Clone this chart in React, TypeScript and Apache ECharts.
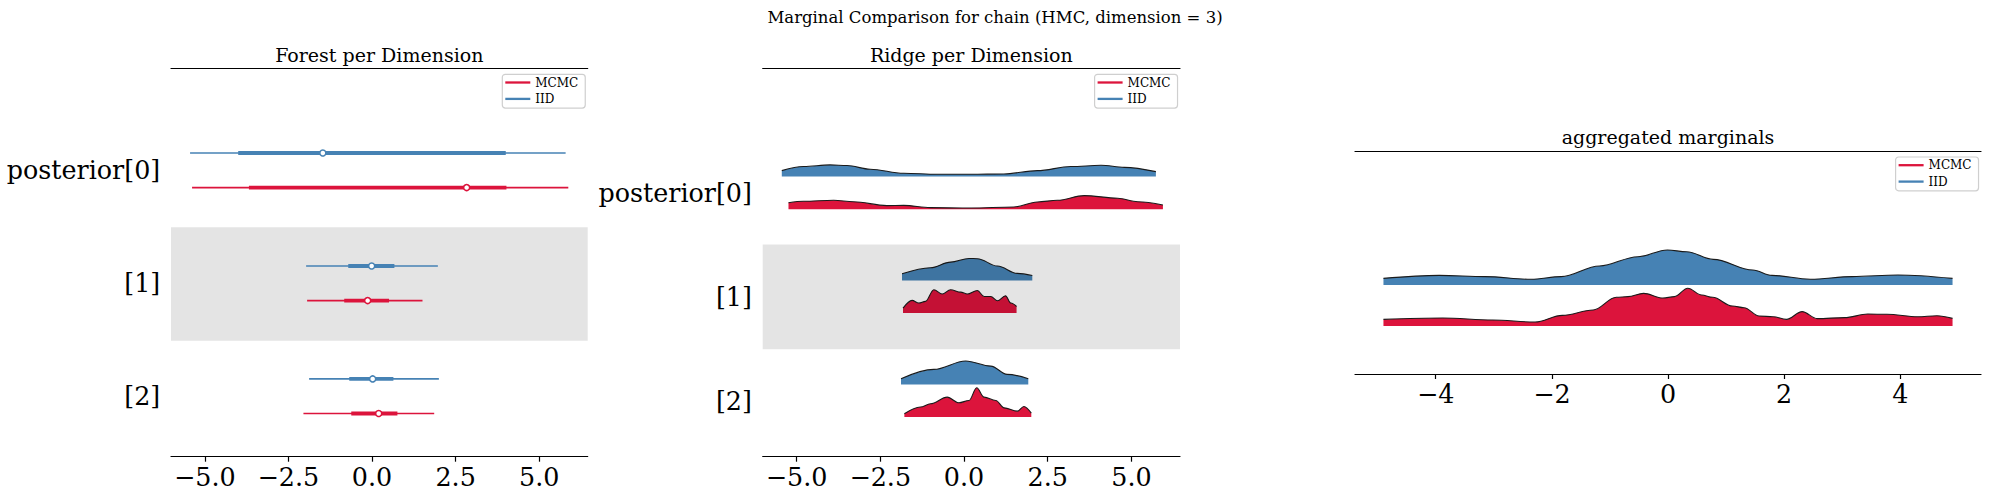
import React, { useEffect, useRef } from "react";
import * as echarts from "echarts";

const RED = "#dc143c";
const BLUE = "#4682b4";
const FONT = "DejaVu Serif";

const SUPTITLE = "Marginal Comparison for chain (HMC, dimension = 3)";
const panelTitles = ["Forest per Dimension", "Ridge per Dimension", "aggregated marginals"];
const rowLabels = ["posterior[0]", "[1]", "[2]"];
const legendNames = ["MCMC", "IID"];
const dimTicks = [-5, -2.5, 0, 2.5, 5];
const aggTicks = [-4, -2, 0, 2, 4];

// forest intervals per dimension: [thinLo, thickLo, median, thickHi, thinHi]
const forestIid = [
  [-5.44, -4.0, -1.47, 4.0, 5.79],
  [-1.97, -0.71, -0.01, 0.67, 1.97],
  [-1.88, -0.68, 0.02, 0.64, 2.0],
];
const forestMcmc = [
  [-5.38, -3.68, 2.83, 4.02, 5.87],
  [-1.94, -0.83, -0.13, 0.51, 1.51],
  [-2.05, -0.62, 0.2, 0.76, 1.86],
];

// ridge densities [x, height]
const ridgeIid0 = [
  [-5.44, 4.7], [-4.79, 7.9], [-4.0, 9.2], [-3.49, 8.7], [-2.8, 5.8], [-1.8, 2.6],
  [-0.8, 1.8], [0.2, 1.8], [1.19, 2.1], [2.19, 4.7], [3.19, 7.9], [4.09, 8.9],
  [4.79, 7.3], [5.73, 3.9],
];
const ridgeMcmc0 = [
  [-5.24, 5.2], [-4.79, 6.3], [-3.89, 7.1], [-3.3, 6.0], [-2.3, 2.9], [-1.8, 3.1],
  [-1.0, 1.3], [0.2, 1.0], [1.49, 1.8], [2.19, 5.8], [2.79, 7.1], [3.59, 10.8],
  [4.59, 8.7], [5.19, 6.0], [5.94, 3.4],
];
const ridgeIid1 = [
  [-1.85, 5.2], [-1.0, 10.0], [-0.4, 14.4], [0.15, 17.3], [0.4, 17.1], [1.0, 11.3],
  [1.59, 5.5], [2.04, 3.9],
];
const ridgeMcmc1 = [
  [-1.82, 3.9], [-1.55, 10.0], [-1.35, 7.9], [-1.15, 9.2], [-0.9, 18.4], [-0.65, 15.0],
  [-0.4, 18.4], [-0.1, 16.5], [0.1, 15.0], [0.4, 17.8], [0.6, 13.1], [0.8, 13.1],
  [1.0, 9.7], [1.24, 13.6], [1.4, 7.9], [1.57, 5.2],
];
const ridgeIid2 = [
  [-1.88, 4.5], [-0.9, 11.8], [0.05, 18.4], [0.8, 14.4], [1.29, 7.9], [1.92, 4.5],
];
const ridgeMcmc2 = [
  [-1.78, 2.6], [-1.3, 7.9], [-1.0, 10.5], [-0.5, 15.7], [-0.15, 11.3], [0.15, 13.1],
  [0.38, 23.1], [0.6, 15.7], [0.95, 13.1], [1.2, 7.3], [1.59, 4.7], [1.79, 8.4],
  [2.01, 3.1],
];
const aggIid = [
  [-4.9, 5.2], [-3.94, 7.6], [-3.15, 6.6], [-2.36, 4.5], [-1.84, 6.6], [-1.18, 15.0],
  [-0.52, 22.3], [-0.01, 27.6], [0.32, 26.2], [0.78, 20.2], [1.46, 11.8], [1.79, 7.6],
  [2.45, 4.5], [3.17, 6.6], [3.96, 7.9], [4.9, 5.2],
];
const aggMcmc = [
  [-4.9, 5.2], [-3.88, 6.3], [-3.02, 4.7], [-2.29, 3.1], [-1.82, 8.4], [-1.29, 12.6],
  [-0.89, 22.6], [-0.69, 23.1], [-0.42, 25.7], [-0.09, 22.0], [0.11, 23.1], [0.34, 29.7],
  [0.58, 24.4], [0.77, 22.6], [1.11, 15.7], [1.31, 14.4], [1.57, 7.9], [1.81, 7.3],
  [2.04, 5.2], [2.31, 11.3], [2.57, 5.8], [3.04, 6.6], [3.44, 9.4], [3.77, 9.2],
  [4.3, 7.3], [4.63, 8.1], [4.9, 6.0],
];

// layout (px)
const GRIDS = [
  { left: 171, top: 68.3, width: 416.7, height: 388.4 },
  { left: 762.7, top: 68.3, width: 417.3, height: 388.4 },
  { left: 1355, top: 151, width: 626, height: 223 },
];
const DIM_RANGE = [-6.01, 6.45];
const AGG_RANGE = [-5.39, 5.39];
const FOREST_ROWS = [286.4, 173.4, 60.5];
const FOREST_OFF = 17.3;
const RIDGE_ROWS = [263.7, 159.9, 55.9];
const RIDGE_UP = 16.4;
const RIDGE_DOWN = 16.3;
const FOREST_BAND = [116, 229.4];
const RIDGE_BAND = [107.4, 212.3];
const AGG_IID_BASE = 89;
const AGG_MCMC_BASE = 48;
const DENSITY_PX = 1.27;

const minus = (s: string) => s.replace("-", "\u2212");
const fmt1 = (v: number) => minus(v.toFixed(1));
const fmt0 = (v: number) => minus(v.toFixed(0));

function xAxes(gridIndex: number, range: number[], ticks: number[], fmt: (v: number) => string) {
  return [
    {
      type: "value", gridIndex, position: "bottom", min: range[0], max: range[1],
      axisLine: { show: true, onZero: false, lineStyle: { color: "#000", width: 1.2 } },
      axisTick: { show: true, customValues: ticks, length: 5, lineStyle: { color: "#000", width: 1.2 } },
      axisLabel: {
        show: true, customValues: ticks, formatter: fmt, margin: 7.5,
        fontFamily: FONT, fontSize: 25.4, color: "#000",
      },
      splitLine: { show: false },
    },
    {
      type: "value", gridIndex, position: "top", min: range[0], max: range[1],
      axisLine: { show: true, onZero: false, lineStyle: { color: "#000", width: 1.2 } },
      axisTick: { show: false }, axisLabel: { show: false }, splitLine: { show: false },
    },
  ];
}

function yAxis(gridIndex: number, max: number, rows: number[] | null) {
  return {
    type: "value", gridIndex, min: 0, max,
    axisLine: { show: false }, axisTick: { show: false }, splitLine: { show: false },
    axisLabel: rows
      ? {
          show: true, customValues: rows, margin: 10.8,
          formatter: (v: number) => {
            let best = 0;
            rows.forEach((r, i) => { if (Math.abs(r - v) < Math.abs(rows[best] - v)) best = i; });
            return rowLabels[best];
          },
          fontFamily: FONT, fontSize: 25.4, color: "#000",
        }
      : { show: false },
  };
}

function forestSeries(name: string, color: string, rows: number[][], off: number) {
  return {
    type: "custom", name, xAxisIndex: 0, yAxisIndex: 0, z: 3,
    itemStyle: { color },
    encode: { x: [0, 1, 2, 3, 4], y: 5 },
    data: rows.map((r, i) => [...r, FOREST_ROWS[i] + off]),
    renderItem: (_params: any, api: any) => {
      const y = api.value(5);
      const p = (i: number) => api.coord([api.value(i), y]);
      const a = p(0), b = p(1), m = p(2), c = p(3), d = p(4);
      return {
        type: "group",
        children: [
          { type: "line", shape: { x1: a[0], y1: a[1], x2: d[0], y2: d[1] }, style: { stroke: color, lineWidth: 1.7 } },
          { type: "line", shape: { x1: b[0], y1: b[1], x2: c[0], y2: c[1] }, style: { stroke: color, lineWidth: 3.8 } },
          { type: "circle", shape: { cx: m[0], cy: m[1], r: 3 }, style: { fill: "#fff", stroke: color, lineWidth: 1.5 } },
        ],
      };
    },
  };
}

function ridgeSeries(name: string, color: string, pts: number[][], base: number, xi: number, yi: number) {
  return {
    type: "line", name, xAxisIndex: xi, yAxisIndex: yi, z: 3,
    data: pts.map(([x, h]) => [x, base + h * DENSITY_PX]),
    smooth: 0.35, smoothMonotone: "x", symbol: "none", showSymbol: false,
    itemStyle: { color },
    lineStyle: { color: "#1a1a1a", width: 1.1 },
    areaStyle: { color, opacity: 1, origin: base },
  };
}

function bandSeries(xi: number, yi: number, band: number[], color: string, z: number) {
  return {
    type: "line", name: "band", xAxisIndex: xi, yAxisIndex: yi, z,
    data: [[0, band[0]]], symbol: "none", showSymbol: false, lineStyle: { opacity: 0 },
    markArea: { silent: true, z, itemStyle: { color }, data: [[{ yAxis: band[0] }, { yAxis: band[1] }]] },
  };
}

function legendAt(left: number, top: number) {
  return {
    left, top, orient: "vertical", icon: "rect", itemWidth: 25, itemHeight: 2.3, itemGap: 0,
    padding: [0, 7, 1, 3], selectedMode: false, z: 20,
    backgroundColor: "rgba(255,255,255,0.8)", borderColor: "#cfcfcf", borderWidth: 1.2, borderRadius: 3,
    itemStyle: { borderWidth: 0 },
    textStyle: { fontFamily: FONT, fontSize: 12, color: "#000", lineHeight: 16.4 },
    data: [
      { name: legendNames[0], itemStyle: { color: RED } },
      { name: legendNames[1], itemStyle: { color: BLUE } },
    ],
  };
}

function titleText(text: string, x: number, y: number, size: number) {
  return {
    type: "text", x, y, silent: true,
    style: { text, fontFamily: FONT, fontSize: size, fill: "#000", align: "center", verticalAlign: "middle" },
  };
}

export default function App() {
  const chartRef = useRef<HTMLDivElement>(null);

  useEffect(() => {
    if (!chartRef.current) return;
    document.body.style.margin = "0";
    const chart = echarts.init(chartRef.current, null, { renderer: "svg" });

    const ridgeSets = [
      [ridgeIid0, ridgeMcmc0],
      [ridgeIid1, ridgeMcmc1],
      [ridgeIid2, ridgeMcmc2],
    ];

    chart.setOption({
      animation: false,
      backgroundColor: "#fff",
      grid: GRIDS.map((g) => ({ ...g, containLabel: false, outerBoundsMode: "none" })),
      xAxis: [
        ...xAxes(0, DIM_RANGE, dimTicks, fmt1),
        ...xAxes(1, DIM_RANGE, dimTicks, fmt1),
        ...xAxes(2, AGG_RANGE, aggTicks, fmt0),
      ],
      yAxis: [
        yAxis(0, GRIDS[0].height, FOREST_ROWS),
        yAxis(1, GRIDS[1].height, RIDGE_ROWS),
        yAxis(2, GRIDS[2].height, null),
      ],
      legend: [
        legendAt(502.3, 74.3),
        legendAt(1094.6, 74.3),
        legendAt(1895.6, 157),
      ],
      graphic: [
        titleText(SUPTITLE, 995, 17, 16.5),
        titleText(panelTitles[0], 379.3, 55, 19),
        titleText(panelTitles[1], 971.3, 55, 19),
        titleText(panelTitles[2], 1668, 137, 19),
      ],
      series: [
        bandSeries(0, 0, FOREST_BAND, "#e4e4e4", 1),
        forestSeries("IID", BLUE, forestIid, FOREST_OFF),
        forestSeries("MCMC", RED, forestMcmc, -FOREST_OFF),
        ...ridgeSets.flatMap(([iid, mcmc], i) => [
          ridgeSeries("IID", BLUE, iid, RIDGE_ROWS[i] + RIDGE_UP, 2, 1),
          ridgeSeries("MCMC", RED, mcmc, RIDGE_ROWS[i] - RIDGE_DOWN, 2, 1),
        ]),
        bandSeries(2, 1, RIDGE_BAND, "rgba(0,0,0,0.105)", 10),
        ridgeSeries("IID", BLUE, aggIid, AGG_IID_BASE, 4, 2),
        ridgeSeries("MCMC", RED, aggMcmc, AGG_MCMC_BASE, 4, 2),
      ],
    });

    return () => {
      chart.dispose();
    };
  }, []);

  return <div ref={chartRef} style={{ width: 1990, height: 499 }} />;
}
